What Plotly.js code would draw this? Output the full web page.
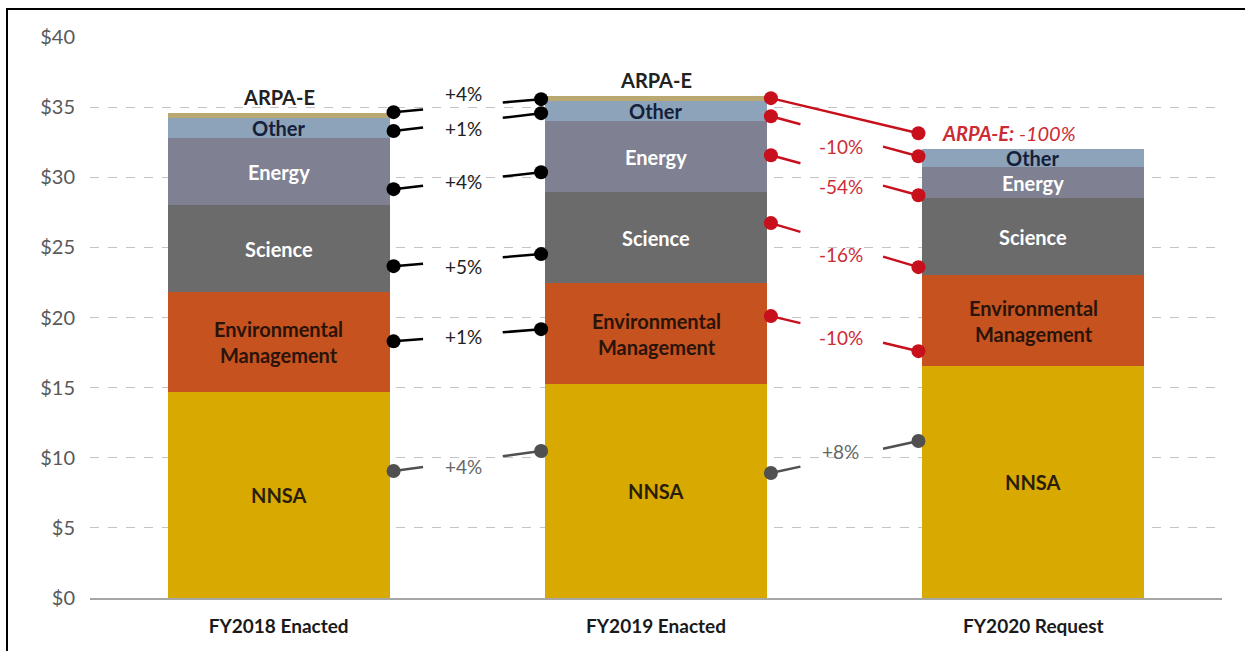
<!DOCTYPE html>
<html><head><meta charset="utf-8">
<script src="https://cdn.plot.ly/plotly-3.0.1.min.js"></script>
<style>
html,body{margin:0;padding:0;background:#fff;overflow:hidden}
#chart{width:1245px;height:651px}
#frame{position:absolute;left:6px;top:8px;width:1245px;height:651px;border-left:2px solid #000;border-top:2px solid #000;pointer-events:none}
</style></head><body>
<div id="chart"></div><div id="frame"></div>
<script>
// ---- data (billions of dollars) ----
const categories = ['FY2018 Enacted', 'FY2019 Enacted', 'FY2020 Request'];
const nnsa    = [14.7, 15.25, 16.55];
const envMgmt = [7.1, 7.2, 6.45];
const science = [6.2, 6.5, 5.5];
const energy  = [4.8, 5.05, 2.2];
const other   = [1.4, 1.42, 1.3];
const arpae   = [0.35, 0.37, 0];
const yTickVals = [0, 5, 10, 15, 20, 25, 30, 35, 40];
const yTickText = ['$0', '$5', '$10', '$15', '$20', '$25', '$30', '$35', '$40'];
// percent change labels, order: ARPA-E, Other, Energy, Science, EM, NNSA
const changeFY19 = ['+4%', '+1%', '+4%', '+5%', '+1%', '+4%'];
const changeFY20 = ['-100%', '-10%', '-54%', '-16%', '-10%', '+8%'];

// ---- connector placement (data units) ----
const gap1Left  = [34.64, 33.3, 29.15, 23.66, 18.3, 9.05];
const gap1Right = [35.57, 34.57, 30.36, 24.52, 19.17, 10.48];
const gap2Left  = [35.64, 34.35, 31.57, 26.73, 20.1, 8.91];
const gap2Right = [33.14, 31.5, 28.72, 23.59, 17.6, 11.19];
const gap1LabelY = [36.0, 33.5, 29.72, 23.66, 18.67, 9.41];
const gap2LabelY = [null, 32.2, 29.37, 24.52, 18.6, 10.48];

const xIdx = categories.map((c, i) => i);
const barW = 0.589;
const edge = barW / 2 + 0.01;

const segs = [
  {name: 'NNSA', vals: nnsa, color: '#d8a900', txt: '#2a1e0a', label: 'NNSA'},
  {name: 'Environmental Management', vals: envMgmt, color: '#c5521f', txt: '#2a140a', label: 'Environmental<br>Management'},
  {name: 'Science', vals: science, color: '#6b6b6b', txt: '#ffffff', label: 'Science'},
  {name: 'Energy', vals: energy, color: '#7f8193', txt: '#ffffff', label: 'Energy'},
  {name: 'Other', vals: other, color: '#8da3b9', txt: '#14203a', label: 'Other'},
  {name: 'ARPA-E', vals: arpae, color: '#b9a872', txt: '#222222', label: 'ARPA-E'}
];

const traces = segs.map(s => ({
  type: 'bar', x: xIdx, y: s.vals, name: s.name, width: barW,
  marker: {color: s.color, line: {width: 0}}, hoverinfo: 'skip'
}));

const annotations = [];
const base = [0, 0, 0];
segs.forEach(s => {
  s.vals.forEach((v, i) => {
    if (v > 0) {
      if (s.name === 'ARPA-E') {
        annotations.push({x: i, y: base[i] + v, yanchor: 'bottom', yshift: 2, text: '<b>' + s.label + '</b>',
          showarrow: false, font: {family: 'Lato', size: 20, color: s.txt}});
      } else {
        annotations.push({x: i, y: base[i] + v / 2, text: '<b>' + s.label + '</b>', showarrow: false,
          font: {family: 'Lato', size: 20, color: s.txt}});
      }
    }
    base[i] += v;
  });
});

function addConnectors(gapIdx, leftY, rightY, labels, labelY, mainColor, cut1, cut2) {
  const x1 = gapIdx + edge, x2 = gapIdx + 1 - edge;
  const lx = {main: [], nn: []}, ly = {main: [], nn: []};
  const dx = {main: [], nn: []}, dy = {main: [], nn: []};
  leftY.forEach((y1, k) => {
    const y2 = rightY[k];
    const key = k === 5 ? 'nn' : 'main';
    const at = t => [x1 + (x2 - x1) * t, y1 + (y2 - y1) * t];
    if (labelY[k] === null) {
      lx[key].push(x1, x2, null); ly[key].push(y1, y2, null);
    } else {
      const a = at(cut1), b = at(cut2);
      lx[key].push(x1, a[0], null, b[0], x2, null);
      ly[key].push(y1, a[1], null, b[1], y2, null);
      annotations.push({x: gapIdx + 0.49, y: labelY[k], text: labels[k], showarrow: false,
        font: {family: 'Lato', size: 19, color: k === 5 ? '#666666' : (mainColor === '#000000' ? '#222222' : '#cc2b35')}});
    }
    dx[key].push(x1, x2); dy[key].push(y1, y2);
  });
  [['main', mainColor], ['nn', '#505050']].forEach(([key, col]) => {
    traces.push({type: 'scatter', mode: 'lines', x: lx[key], y: ly[key], line: {color: col, width: 2.5},
      hoverinfo: 'skip', showlegend: false, connectgaps: false});
    traces.push({type: 'scatter', mode: 'markers', x: dx[key], y: dy[key], marker: {color: col, size: 14},
      hoverinfo: 'skip', showlegend: false});
  });
}
addConnectors(0, gap1Left, gap1Right, changeFY19, gap1LabelY, '#000000', 0.2, 0.74);
addConnectors(1, gap2Left, gap2Right, changeFY20, gap2LabelY, '#c8101c', 0.2, 0.76);

annotations.push({x: 2 - edge, y: gap2Right[0], xanchor: 'left', xshift: 22,
  text: '<b><i>ARPA-E:</i></b><i> ' + changeFY20[0] + '</i>', showarrow: false,
  font: {family: 'Lato', size: 20, color: '#cc2b35'}});

const layout = {
  width: 1245, height: 651,
  margin: {l: 90, r: 23, t: 37, b: 53},
  paper_bgcolor: '#ffffff', plot_bgcolor: '#ffffff',
  barmode: 'stack', showlegend: false,
  xaxis: {range: [-0.5, 2.5], tickvals: xIdx, ticktext: categories.map(c => '<b>' + c + '</b>'),
    showgrid: false, zeroline: false, showline: true, linecolor: '#a6a6a6', linewidth: 2,
    ticks: '', ticklabelstandoff: 10, tickfont: {family: 'Lato', size: 19, color: '#1a1a1a'}, fixedrange: true},
  yaxis: {range: [0, 40], tickvals: yTickVals, ticktext: yTickText, showgrid: true,
    gridcolor: '#c4c4c4', griddash: 'dash', gridwidth: 1, zeroline: false, ticks: '',
    ticklabelstandoff: 14, tickfont: {family: 'Lato', size: 20, color: '#595959'}, fixedrange: true},
  annotations: annotations
};

Plotly.newPlot('chart', traces, layout, {displayModeBar: false, staticPlot: true});
</script>
</body></html>
